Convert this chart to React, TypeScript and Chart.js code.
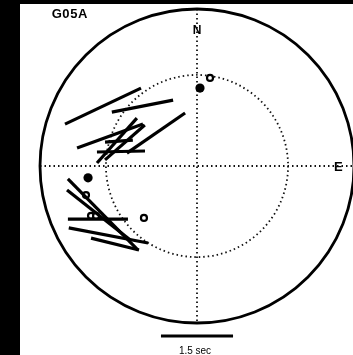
import React, { useEffect, useRef } from "react";
import { Chart, registerables } from "chart.js";

Chart.register(...registerables);

// Station label and scale
const STATION = "G05A";
const SCALE_SEC = 1.5;
const SCALE_LABEL = "1.5 sec";
const DIRECTION_LABELS = ["N", "E"];
const INNER_RING = 0.58; // normalized radius of dotted ring
const UNITS_PER_SEC = 0.306; // stick length (plot units) per second of delay

// Splitting measurements: back-azimuth (deg), normalized distance, fast azimuth (deg), delay (s)
const splitBaz = [302.5, 317.7, 289.0, 308.8, 287.6, 288.1, 280.8, 287.7, 242.7, 243.5, 241.8, 231.9, 226.4];
const splitDist = [0.71, 0.516, 0.586, 0.335, 0.535, 0.483, 0.493, 0.522, 0.674, 0.7, 0.716, 0.717, 0.721];
const splitFast = [64.7, 78.9, 70.0, 55.4, 41.6, 48.8, 88.8, 86.0, 135.4, 128.4, 90.0, 100.8, 104.0];
const splitDelay = [1.75, 1.3, 1.46, 1.47, 1.25, 1.1, 1.0, 0.58, 2.08, 1.68, 1.25, 1.68, 1.03];

// Filled (good null) measurements
const nullGoodBaz = [2.2, 263.8];
const nullGoodDist = [0.497, 0.698];
// Open (fair null) measurements
const nullFairBaz = [8.4, 255.3, 244.8, 243.7, 225.6];
const nullFairDist = [0.567, 0.731, 0.746, 0.717, 0.473];

const rad = (d: number) => (d * Math.PI) / 180;
const toXY = (baz: number, dist: number) => ({
  x: dist * Math.sin(rad(baz)),
  y: dist * Math.cos(rad(baz)),
});

export default function App() {
  const ref = useRef<HTMLCanvasElement | null>(null);

  useEffect(() => {
    const canvas = ref.current;
    if (!canvas) return;

    const stickSets = splitBaz.map((baz, i) => {
      const c = toXY(baz, splitDist[i]);
      const half = (splitDelay[i] * UNITS_PER_SEC) / 2;
      const dx = half * Math.sin(rad(splitFast[i]));
      const dy = half * Math.cos(rad(splitFast[i]));
      return {
        type: "scatter" as const,
        data: [
          { x: c.x - dx, y: c.y - dy },
          { x: c.x + dx, y: c.y + dy },
        ],
        showLine: true,
        borderColor: "#000",
        borderWidth: 3.2,
        borderCapStyle: "butt" as const,
        pointRadius: 0,
        clip: false as const,
      };
    });

    const goodSet = {
      type: "scatter" as const,
      data: nullGoodBaz.map((b, i) => toXY(b, nullGoodDist[i])),
      pointRadius: 4.6,
      pointBackgroundColor: "#000",
      pointBorderColor: "#000",
      pointBorderWidth: 0,
      showLine: false,
      clip: false as const,
    };
    const fairSet = {
      type: "scatter" as const,
      data: nullFairBaz.map((b, i) => toXY(b, nullFairDist[i])),
      pointRadius: 3,
      pointBackgroundColor: "#fff",
      pointBorderColor: "#000",
      pointBorderWidth: 2.2,
      showLine: false,
      clip: false as const,
    };

    const stereo = {
      id: "stereo",
      beforeDraw(chart: any) {
        const ctx = chart.ctx;
        ctx.save();
        ctx.fillStyle = "#000";
        ctx.fillRect(0, 0, chart.width, chart.height);
        ctx.fillStyle = "#fff";
        ctx.fillRect(20, 4, chart.width - 20, chart.height - 4);
        ctx.restore();
      },
      beforeDatasetsDraw(chart: any) {
        const ctx = chart.ctx;
        const xs = chart.scales.x;
        const ys = chart.scales.y;
        const cx = xs.getPixelForValue(0);
        const cy = ys.getPixelForValue(0);
        const R = xs.getPixelForValue(1) - cx;
        ctx.save();
        // dotted axes
        ctx.strokeStyle = "#111";
        ctx.lineWidth = 1.8;
        ctx.setLineDash([1.5, 3]);
        ctx.beginPath();
        ctx.moveTo(xs.getPixelForValue(-1), cy);
        ctx.lineTo(xs.getPixelForValue(1), cy);
        ctx.moveTo(cx, ys.getPixelForValue(1));
        ctx.lineTo(cx, ys.getPixelForValue(-1));
        ctx.stroke();
        // dotted inner ring
        ctx.beginPath();
        ctx.arc(cx, cy, R * INNER_RING, 0, Math.PI * 2);
        ctx.stroke();
        // outer circle
        ctx.setLineDash([]);
        ctx.strokeStyle = "#000";
        ctx.lineWidth = 2.8;
        ctx.beginPath();
        ctx.arc(cx, cy, R, 0, Math.PI * 2);
        ctx.stroke();
        ctx.restore();
      },
      afterDatasetsDraw(chart: any) {
        const ctx = chart.ctx;
        const xs = chart.scales.x;
        const ys = chart.scales.y;
        const cx = xs.getPixelForValue(0);
        ctx.save();
        ctx.fillStyle = "#000";
        ctx.textAlign = "center";
        ctx.textBaseline = "middle";
        ctx.font = "bold 12px 'Liberation Sans', Arial, sans-serif";
        ctx.fillText(DIRECTION_LABELS[0], cx, ys.getPixelForValue(0.86));
        ctx.font = "bold 13px 'Liberation Sans', Arial, sans-serif";
        ctx.fillText(DIRECTION_LABELS[1], xs.getPixelForValue(0.9), ys.getPixelForValue(-0.01));
        ctx.font = "bold 13px 'Liberation Sans', Arial, sans-serif";
        (ctx as any).letterSpacing = "0.6px";
        ctx.fillText(STATION, xs.getPixelForValue(-0.81), ys.getPixelForValue(0.963));
        (ctx as any).letterSpacing = "0px";
        // scale bar
        const half = (SCALE_SEC * UNITS_PER_SEC) / 2;
        const by = ys.getPixelForValue(-1.083);
        ctx.strokeStyle = "#000";
        ctx.lineWidth = 3;
        ctx.beginPath();
        ctx.moveTo(xs.getPixelForValue(-half), by);
        ctx.lineTo(xs.getPixelForValue(half), by);
        ctx.stroke();
        ctx.font = "10px 'Liberation Sans', Arial, sans-serif";
        ctx.fillText(SCALE_LABEL, cx - 2, ys.getPixelForValue(-1.178));
        ctx.restore();
      },
    };

    const chart = new Chart(canvas, {
      type: "scatter",
      data: { datasets: [...stickSets, goodSet, fairSet] as any },
      options: {
        responsive: false,
        animation: false,
        layout: { autoPadding: false, padding: { left: 40, top: 9, right: 0, bottom: 32 } },
        scales: {
          x: { type: "linear", min: -1, max: 0.9936, display: false },
          y: { type: "linear", min: -1, max: 1, display: false },
        },
        plugins: { legend: { display: false }, tooltip: { enabled: false } },
        events: [],
      },
      plugins: [stereo],
    });
    return () => chart.destroy();
  }, []);

  return (
    <canvas
      ref={ref}
      width={353}
      height={355}
      style={{ position: "fixed", left: 0, top: 0, width: 353, height: 355, display: "block" }}
    />
  );
}
